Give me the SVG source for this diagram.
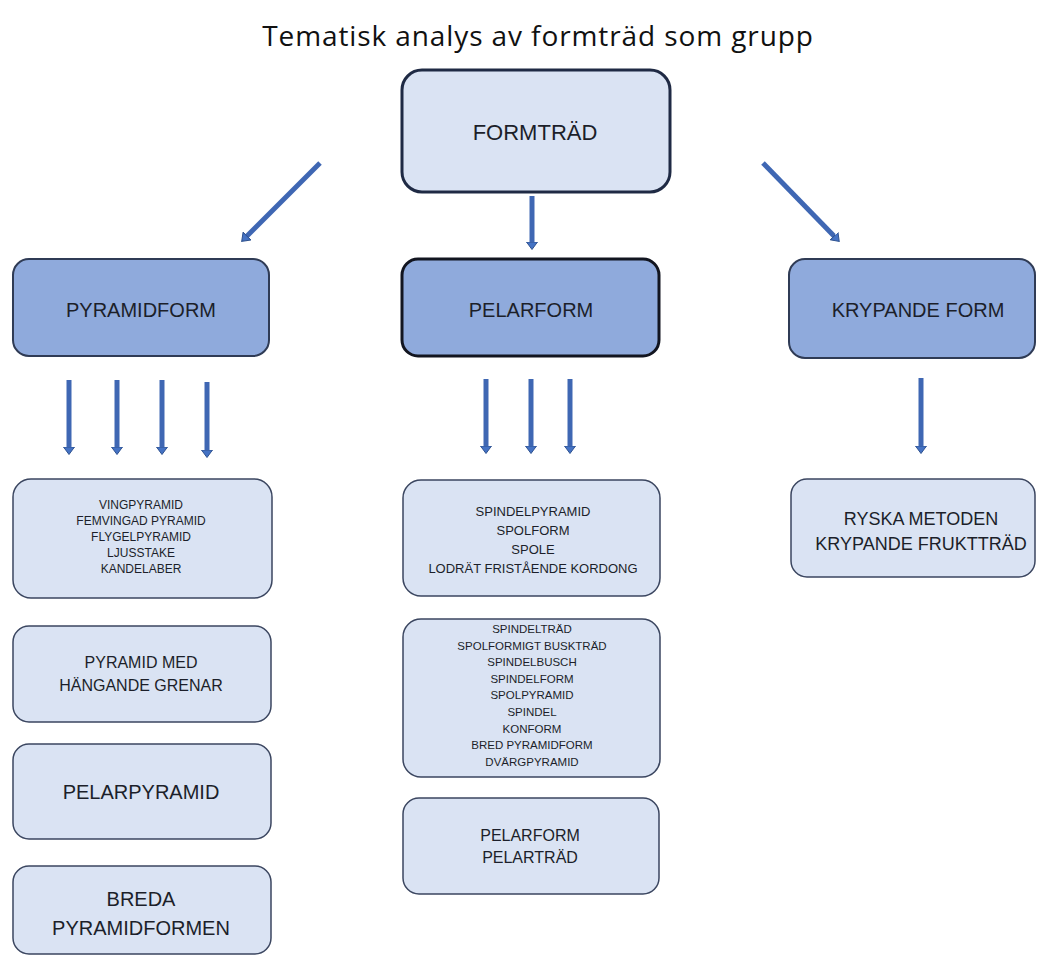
<svg xmlns="http://www.w3.org/2000/svg" width="1037" height="957" viewBox="0 0 1037 957">
<style>
.t{font-family:"Liberation Sans",Arial,sans-serif;fill:#1c1f2a;text-anchor:middle}
.title{font-family:"Open Sans","Liberation Sans",sans-serif;font-size:28px;letter-spacing:0.9px;fill:#111;text-anchor:middle}
.light{fill:#DAE3F3;stroke:#3B4660;stroke-width:1.5}
.dark{fill:#8FAADC;stroke:#2F3B55;stroke-width:2}
.conn line{stroke:#3F67B3;stroke-width:5;marker-end:url(#ah)}
</style>
<defs>
<marker id="ah" markerUnits="userSpaceOnUse" markerWidth="8" markerHeight="12" viewBox="0 0 8 12" refX="0" refY="6" orient="auto">
<path d="M0,0.5 L7.5,6 L0,11.5 z" fill="#4472C4" stroke="#2F528F" stroke-width="1"/>
</marker>
</defs>
<rect width="1037" height="957" fill="#fff"/>
<text class="title" x="538" y="46">Tematisk analys av formträd som grupp</text>

<g id="formtrad"><rect x="402" y="70" width="268" height="122" rx="20" fill="#DAE3F3" stroke="#1F2A44" stroke-width="3"/><text class="t" x="535" y="140" font-size="22">FORMTRÄD</text></g>
<g id="pyramidform"><rect class="dark" x="13" y="259" width="256" height="97" rx="16"/><text class="t" x="141" y="317" font-size="20">PYRAMIDFORM</text></g>
<g id="pelarform"><rect x="402" y="259" width="257" height="97" rx="16" fill="#8FAADC" stroke="#121520" stroke-width="3"/><text class="t" x="531" y="317" font-size="20">PELARFORM</text></g>
<g id="krypande"><rect class="dark" x="789" y="259" width="246" height="99" rx="16"/><text class="t" x="918" y="317" font-size="20">KRYPANDE FORM</text></g>

<g id="vingpyramid"><rect class="light" x="13" y="479" width="259" height="119" rx="18"/>
<text class="t" font-size="12" x="141"><tspan x="141" y="509">VINGPYRAMID</tspan><tspan x="141" y="525">FEMVINGAD PYRAMID</tspan><tspan x="141" y="541">FLYGELPYRAMID</tspan><tspan x="141" y="557">LJUSSTAKE</tspan><tspan x="141" y="573">KANDELABER</tspan></text></g>
<g id="pyramidmed"><rect class="light" x="13" y="626" width="258" height="96" rx="16"/>
<text class="t" font-size="16"><tspan x="141" y="668">PYRAMID MED</tspan><tspan x="141" y="691">HÄNGANDE GRENAR</tspan></text></g>
<g id="pelarpyramid"><rect class="light" x="13" y="744" width="258" height="95" rx="16"/><text class="t" font-size="20" x="141" y="799">PELARPYRAMID</text></g>
<g id="breda"><rect class="light" x="13" y="866" width="258" height="88" rx="16"/>
<text class="t" font-size="20"><tspan x="141" y="906">BREDA</tspan><tspan x="141" y="935">PYRAMIDFORMEN</tspan></text></g>

<g id="spindelpyramid"><rect class="light" x="403" y="480" width="257" height="116" rx="18"/>
<text class="t" font-size="13"><tspan x="533" y="516">SPINDELPYRAMID</tspan><tspan x="533" y="535">SPOLFORM</tspan><tspan x="533" y="554">SPOLE</tspan><tspan x="533" y="573">LODRÄT FRISTÅENDE KORDONG</tspan></text></g>
<g id="spindeltrad"><rect class="light" x="403" y="619" width="257" height="158" rx="18"/>
<text class="t" font-size="11.5"><tspan x="532" y="633">SPINDELTRÄD</tspan><tspan x="532" y="649.6">SPOLFORMIGT BUSKTRÄD</tspan><tspan x="532" y="666.2">SPINDELBUSCH</tspan><tspan x="532" y="682.8">SPINDELFORM</tspan><tspan x="532" y="699.4">SPOLPYRAMID</tspan><tspan x="532" y="716">SPINDEL</tspan><tspan x="532" y="732.6">KONFORM</tspan><tspan x="532" y="749.2">BRED PYRAMIDFORM</tspan><tspan x="532" y="765.8">DVÄRGPYRAMID</tspan></text></g>
<g id="pelartrad"><rect class="light" x="403" y="798" width="256" height="96" rx="16"/>
<text class="t" font-size="16"><tspan x="530" y="841">PELARFORM</tspan><tspan x="530" y="863">PELARTRÄD</tspan></text></g>
<g id="ryska"><rect class="light" x="791" y="479" width="244" height="98" rx="16"/>
<text class="t" font-size="18"><tspan x="921" y="525">RYSKA METODEN</tspan><tspan x="921" y="550">KRYPANDE FRUKTTRÄD</tspan></text></g>

<g id="connectors" class="conn">
<line x1="320" y1="163" x2="247" y2="236"/>
<line x1="532" y1="196" x2="532" y2="242"/>
<line x1="763" y1="163" x2="834" y2="236"/>
<line x1="69" y1="380" x2="69" y2="447"/>
<line x1="117" y1="380" x2="117" y2="447"/>
<line x1="162" y1="380" x2="162" y2="447"/>
<line x1="207" y1="382" x2="207" y2="450"/>
<line x1="486" y1="379" x2="486" y2="446"/>
<line x1="531" y1="379" x2="531" y2="446"/>
<line x1="570" y1="379" x2="570" y2="446"/>
<line x1="921" y1="378" x2="921" y2="446"/>
</g>
</svg>
